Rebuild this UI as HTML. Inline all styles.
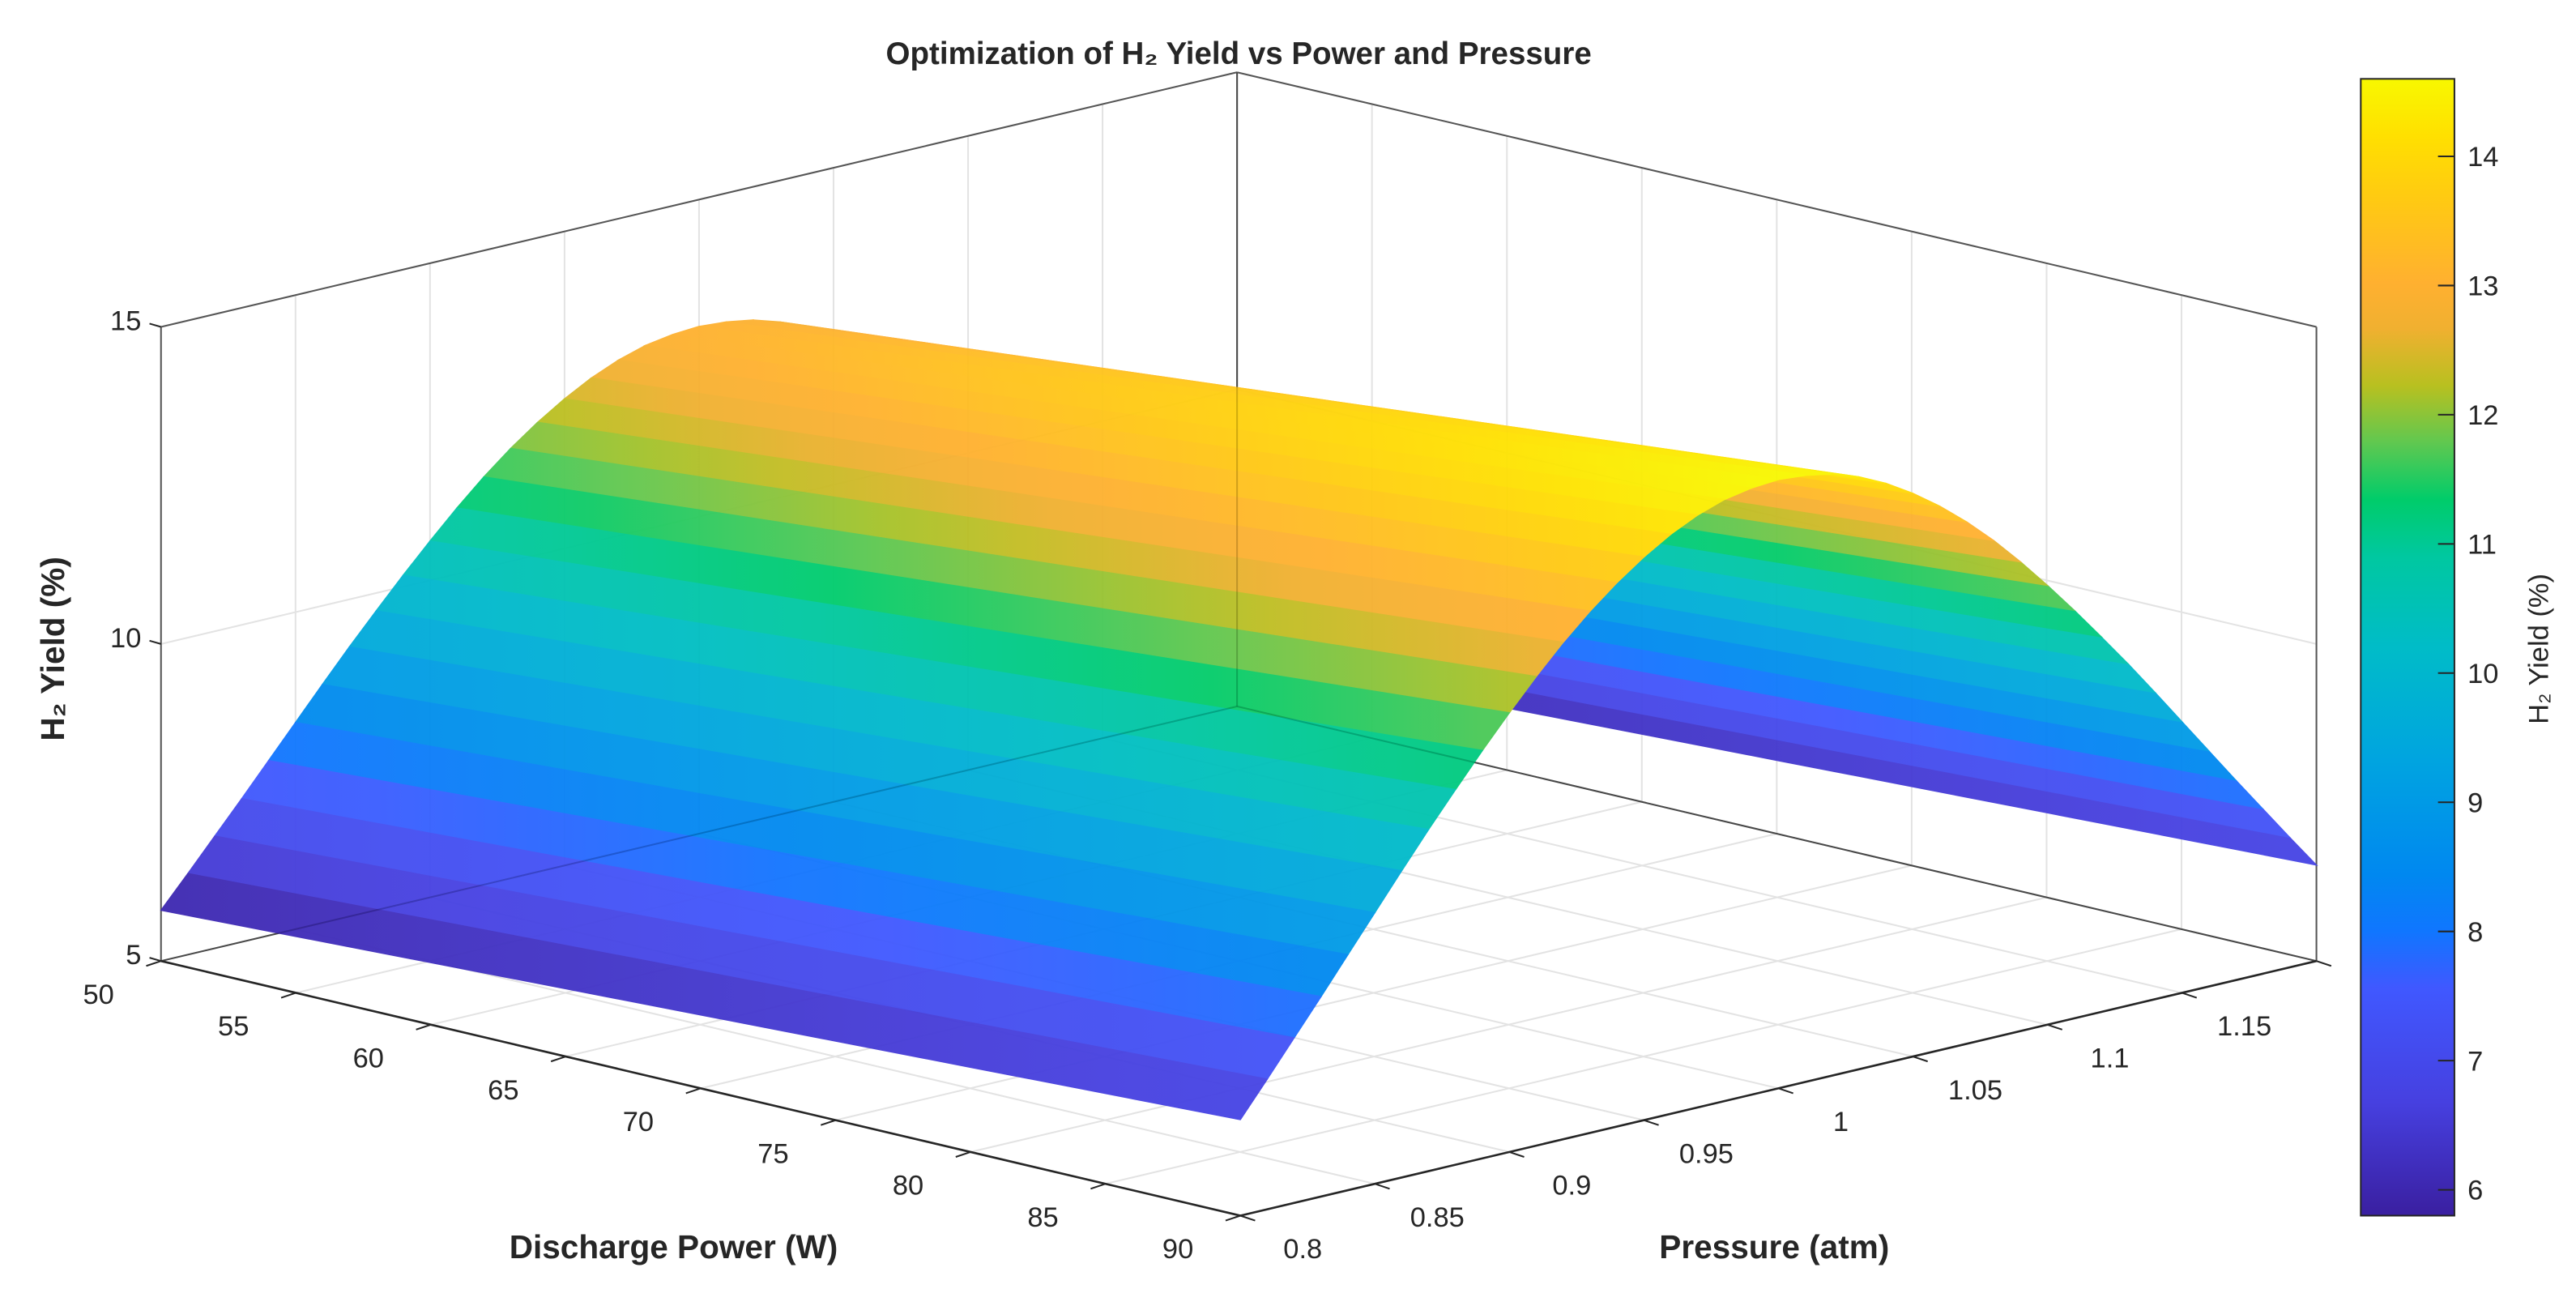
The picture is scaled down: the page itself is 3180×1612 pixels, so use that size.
<!DOCTYPE html>
<html><head><meta charset="utf-8">
<style>
html,body{margin:0;padding:0;background:#fff;}
svg{display:block;}
text{font-family:"Liberation Sans","DejaVu Sans",sans-serif;fill:#262626;}
</style></head>
<body>
<svg id="chart" width="3180" height="1612" viewBox="0 0 1568 795" preserveAspectRatio="none" xmlns="http://www.w3.org/2000/svg">
<defs id="defs"></defs>
<g id="walls"></g>
<g id="surface" opacity="0.95"></g>
<g id="overlay"></g>
<g id="cbar"></g>
<text x="754" y="39" text-anchor="middle" font-size="19" font-weight="bold">Optimization of H₂ Yield vs Power and Pressure</text>
<text x="410" y="766" text-anchor="middle" font-size="20" font-weight="bold">Discharge Power (W)</text>
<text x="1080" y="766" text-anchor="middle" font-size="20" font-weight="bold">Pressure (atm)</text>
<text transform="translate(39,395) rotate(-90)" text-anchor="middle" font-size="20" font-weight="bold">H₂ Yield (%)</text>
<text transform="translate(1551,395) rotate(-90)" text-anchor="middle" font-size="17">H₂ Yield (%)</text>
</svg>
<script>
// ---- data ----
const powers = [50,55,60,65,70,75,80,85,90];
const peakYieldByPower = [13.0,13.2,13.4,13.6,13.8,14.0,14.2,14.4,14.6];
const pressures = [0.80,0.81,0.82,0.83,0.84,0.85,0.86,0.87,0.88,0.89,0.90,0.91,0.92,0.93,0.94,0.95,0.96,0.97,0.98,0.99,1.00,
  1.01,1.02,1.03,1.04,1.05,1.06,1.07,1.08,1.09,1.10,1.11,1.12,1.13,1.14,1.15,1.16,1.17,1.18,1.19,1.20];
const yieldAt50W = [5.80,6.28,6.77,7.26,7.76,8.26,8.76,9.25,9.72,10.18,10.62,11.04,11.43,11.78,12.09,12.36,12.59,12.77,12.90,12.97,13.00,
  12.97,12.90,12.77,12.59,12.36,12.09,11.78,11.43,11.04,10.62,10.18,9.72,9.25,8.76,8.26,7.76,7.26,6.77,6.28,5.80];
const powerTicks = [50,55,60,65,70,75,80,85,90];
const powerTickLabels = ["50","55","60","65","70","75","80","85","90"];
const pressureTicks = [0.8,0.85,0.9,0.95,1.0,1.05,1.1,1.15,1.2];
const pressureTickLabels = ["0.8","0.85","0.9","0.95","1","1.05","1.1","1.15","1.2"];
const zTicks = [5,10,15];
const zTickLabels = ["5","10","15"];
const cbarTicks = [6,7,8,9,10,11,12,13,14];
const cbarTickLabels = ["6","7","8","9","10","11","12","13","14"];

// ---- axes ----
const W0=50,W1=90,P0=0.8,P1=1.2,Z0=5,Z1=15;
function proj(w,p,z){
  const u=(w-W0)/(W1-W0), v=(p-P0)/(P1-P0);
  return [98+657*u+655*v, 585+155*u-155*v-(z-Z0)*38.6];
}
const cmapStops=[[0,0x3a,0x1f,0xa0],[0.1,0x46,0x40,0xe0],[0.2,0x40,0x58,0xff],[0.25,0x10,0x76,0xff],[0.3,0x00,0x88,0xf0],[0.4,0x00,0xa4,0xe0],[0.5,0x00,0xbc,0xc8],[0.58,0x00,0xc8,0xa0],[0.63,0x00,0xcc,0x6a],[0.68,0x60,0xc8,0x50],[0.73,0xb8,0xc0,0x20],[0.78,0xf0,0xb0,0x30],[0.82,0xff,0xb0,0x30],[0.9,0xff,0xcc,0x10],[0.95,0xff,0xe0,0x00],[1,0xf8,0xf8,0x00]];
let allZ=[];
for(let i=0;i<pressures.length;i++)for(let j=0;j<powers.length;j++)allZ.push(yieldAt50W[i]*peakYieldByPower[j]/13);
const cmin=Math.min(...allZ), cmax=Math.max(...allZ);
function color(z){
  let t=(z-cmin)/(cmax-cmin); t=Math.max(0,Math.min(1,t));
  for(let k=1;k<cmapStops.length;k++){
    if(t<=cmapStops[k][0]){const a=cmapStops[k-1],b=cmapStops[k];const f=(t-a[0])/(b[0]-a[0]);
      return `rgb(${Math.round(a[1]+f*(b[1]-a[1]))},${Math.round(a[2]+f*(b[2]-a[2]))},${Math.round(a[3]+f*(b[3]-a[3]))})`;}
  }
  return 'rgb(248,248,0)';
}
const NS='http://www.w3.org/2000/svg';
function mk(tag,attrs,parent){const e=document.createElementNS(NS,tag);for(const k in attrs)e.setAttribute(k,attrs[k]);parent.appendChild(e);return e;}
function line(a,b,st,sw,parent){return mk('line',{x1:a[0],y1:a[1],x2:b[0],y2:b[1],stroke:st,'stroke-width':sw},parent);}
const defs=document.getElementById('defs');
const walls=document.getElementById('walls'), surf=document.getElementById('surface'), ov=document.getElementById('overlay'), cb=document.getElementById('cbar');
const grid='#e3e3e3';
powerTicks.forEach(w=>{
  let l=line(proj(w,P0,Z0),proj(w,P1,Z0),grid,1,walls);
  
  l=line(proj(w,P1,Z0),proj(w,P1,Z1),grid,1,walls);
  
});
pressureTicks.forEach(p=>{
  let l=line(proj(W0,p,Z0),proj(W1,p,Z0),grid,1,walls);
  
  l=line(proj(W0,p,Z0),proj(W0,p,Z1),grid,1,walls);
  
});
zTicks.forEach(z=>{
  let l=line(proj(W0,P0,z),proj(W0,P1,z),grid,1,walls);
  
  l=line(proj(W0,P1,z),proj(W1,P1,z),grid,1,walls);
  
});
[[proj(W0,P0,Z0),proj(W0,P0,Z1)],[proj(W1,P1,Z0),proj(W1,P1,Z1)],[proj(W0,P1,Z0),proj(W0,P1,Z1)],
 [proj(W0,P0,Z1),proj(W0,P1,Z1)],[proj(W0,P1,Z1),proj(W1,P1,Z1)],
 [proj(W0,P0,Z0),proj(W0,P1,Z0)],[proj(W0,P1,Z0),proj(W1,P1,Z0)]].forEach(s=>{
  const l=line(s[0],s[1],'#555',1,walls);
  
});
const zAt=(i,j)=>yieldAt50W[i]*peakYieldByPower[j]/13;
let strips=[];
for(let i=0;i<pressures.length-1;i++){
  const top=[],bot=[];
  for(let j=0;j<powers.length;j++){top.push(proj(powers[j],pressures[i],zAt(i,j)));bot.push(proj(powers[j],pressures[i+1],zAt(i+1,j)));}
  strips.push({i,pts:top.concat(bot.reverse()),v:((pressures[i]+pressures[i+1])/2-P0)/(P1-P0)});
}
strips.sort((a,b)=>b.v-a.v);
strips.forEach(s=>{
  const i=s.i;
  const a=proj(W0,pressures[i],Z0), b=proj(W1,pressures[i],Z0);
  const g=mk('linearGradient',{id:'sg'+i,gradientUnits:'userSpaceOnUse',x1:a[0],y1:0,x2:b[0],y2:0},defs);
  for(let j=0;j<powers.length;j++){
    mk('stop',{offset:j/(powers.length-1),'stop-color':color((zAt(i,j)+zAt(i+1,j))/2)},g);
  }
  const e=mk('polygon',{points:s.pts.map(p=>p.join(',')).join(' '),fill:'url(#sg'+i+')',stroke:'url(#sg'+i+')','stroke-width':0.7},surf);
  
  
});
[[proj(W0,P0,Z0),proj(W0,P1,Z0)],[proj(W0,P1,Z0),proj(W1,P1,Z0)],[proj(W0,P1,Z0),proj(W0,P1,Z1)]].forEach(s=>{
  const l=line(s[0],s[1],'rgba(0,0,0,0.15)',1,ov);
  
});
let l1=line(proj(W0,P0,Z0),proj(W1,P0,Z0),'#262626',1.3,ov);

let l2=line(proj(W1,P0,Z0),proj(W1,P1,Z0),'#262626',1.3,ov);

powerTicks.forEach((w,k)=>{
  const a=proj(w,P0,Z0);
  const t=line(a,[a[0]-9,a[1]+3],'#262626',1,ov);
  
  const tx=mk('text',{x:a[0]-38,y:a[1]+26,'text-anchor':'middle','font-size':17},ov);
  tx.textContent=powerTickLabels[k];
  
});
pressureTicks.forEach((p,k)=>{
  const a=proj(W1,p,Z0);
  const t=line(a,[a[0]+9,a[1]+3],'#262626',1,ov);
  
  const tx=mk('text',{x:a[0]+38,y:a[1]+26,'text-anchor':'middle','font-size':17},ov);
  tx.textContent=pressureTickLabels[k];
  
});
zTicks.forEach((z,k)=>{
  const a=proj(W0,P0,z);
  const t=line(a,[a[0]-7,a[1]-2],'#262626',1,ov);
  
  const tx=mk('text',{x:a[0]-12,y:a[1]+2,'text-anchor':'end','font-size':17},ov);
  tx.textContent=zTickLabels[k];
  
});
const cbX=1437,cbW=57,cbTop=48,cbBot=740;
const cy=v=>cbBot-(v-cmin)/(cmax-cmin)*(cbBot-cbTop);
const grad=mk('linearGradient',{id:'pg',x1:0,y1:1,x2:0,y2:0},defs);
cmapStops.forEach(s=>mk('stop',{offset:s[0],'stop-color':`rgb(${s[1]},${s[2]},${s[3]})`},grad));
const r=mk('rect',{x:cbX,y:cbTop,width:cbW,height:cbBot-cbTop,fill:'url(#pg)',stroke:'#262626','stroke-width':1},cb);

cbarTicks.forEach((v,k)=>{
  const y=cy(v);
  const t=line([cbX+cbW-10,y],[cbX+cbW,y],'#262626',1,cb);
  
  const tx=mk('text',{x:cbX+cbW+8,y:y+6,'font-size':17},cb);
  tx.textContent=cbarTickLabels[k];
  
});
</script>
</body></html>
